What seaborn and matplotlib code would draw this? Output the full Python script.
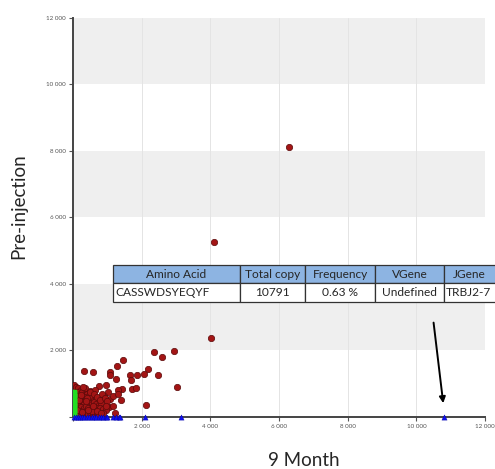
import numpy as np
import pandas as pd
import matplotlib
matplotlib.use("Agg")
import matplotlib.pyplot as plt
import seaborn as sns
from matplotlib.ticker import FuncFormatter

# ─── Data ────────────────────────────────────────────────
# red clones (9 Month copies, Pre-injection copies)
red_x = [6300, 4100, 4020, 2360, 2590, 2930, 1466, 320, 573, 1078, 1068, 1272,
         2194, 2077, 2476, 1651, 1865, 1253, 1690, 1427, 1311, 1719, 1835, 1010,
         748, 961, 3020, 1087, 1398, 2135, 1058, 1155, 845, 1223,
         30, 90, 150, 220, 280, 60, 130, 200, 270, 340, 410, 480, 40, 110, 180,
         250, 320, 390, 460, 530, 600, 670, 50, 120, 190, 260, 330, 400, 470,
         540, 610, 680, 750, 820, 40, 100, 170, 240, 310, 380, 450, 520, 590,
         660, 730, 800, 880, 950, 70, 140, 210, 290, 360, 430, 500, 570, 640,
         710, 780, 870, 20, 80, 350, 500, 650, 900, 1150, 1300, 560, 720,
         60, 160, 230, 300, 420, 490, 620, 700, 780, 850, 930, 1000, 110, 260,
         370, 440, 590, 690, 810, 960]
red_y = [8120, 5250, 2380, 1945, 1815, 1975, 1714, 1384, 1363, 1363, 1263, 1534,
         1434, 1303, 1254, 1254, 1254, 1143, 1103, 852, 812, 832, 872, 762,
         932, 952, 912, 551, 501, 361, 291, 331, 180, 110,
         950, 900, 860, 820, 780, 720, 760, 700, 740, 660, 700, 640, 600, 620,
         580, 560, 600, 540, 520, 560, 500, 540, 460, 420, 480, 440, 400, 460,
         420, 380, 440, 400, 360, 420, 320, 280, 340, 300, 260, 320, 280, 240,
         300, 260, 220, 280, 240, 200, 160, 140, 180, 120, 160, 100, 140, 120,
         90, 130, 80, 110, 560, 640, 860, 780, 820, 620, 640, 700, 180, 60,
         380, 500, 660, 900, 580, 760, 680, 600, 520, 700, 560, 480, 220, 160,
         480, 200, 340, 180, 120, 340]

# blue clones (present only at 9 Month)
blue_x = [20, 80, 140, 200, 260, 330, 400, 470, 540, 610, 680, 750, 820,
          880, 950, 1000, 1150, 1250, 1330, 1380, 2100, 3140, 10791]
blue_y = [0] * len(blue_x)

# green clones (present only at Pre-injection)
green_x = [40, 40, 40, 40, 40, 40, 40, 40, 40, 40, 40, 40, 40, 40, 40]
green_y = [60, 100, 150, 200, 250, 300, 350, 400, 450, 500, 550, 600, 650, 690, 720]

table_cols = ["Amino Acid", "Total copy", "Frequency", "VGene", "JGene"]
table_row = ["CASSWDSYEQYF", "10791", "0.63 %", "Undefined", "TRBJ2-7"]

ticks = [0, 2000, 4000, 6000, 8000, 10000, 12000]

df_red = pd.DataFrame({"x": red_x, "y": red_y})
df_blue = pd.DataFrame({"x": blue_x, "y": blue_y})
df_green = pd.DataFrame({"x": green_x, "y": green_y})

# ─── Plot ────────────────────────────────────────────────
sns.set_style("white")
plt.rcParams["font.family"] = ["Lato", "DejaVu Sans"]

fig = plt.figure(figsize=(4.95, 4.69), dpi=100)
ax = fig.add_axes([0.1475, 0.111, 0.8325, 0.8506])

# faixas alternadas + grade vertical fraca
for i in range(len(ticks) - 1):
    if i % 2 == 1:
        ax.axhspan(ticks[i], ticks[i + 1], color="#efefef", zorder=0, lw=0)
for t in ticks[1:-1]:
    ax.axvline(t, color="#e4e4e4", lw=0.7, zorder=0.5)

sns.scatterplot(data=df_red, x="x", y="y", ax=ax, color="#a31515", s=21,
                edgecolor="#5a0a0a", linewidth=0.5, zorder=3)
sns.scatterplot(data=df_green, x="x", y="y", ax=ax, color="#22dd22", marker="s", s=16,
                edgecolor="#22dd22", linewidth=0.3, zorder=4)
sns.scatterplot(data=df_blue, x="x", y="y", ax=ax, color="#1010ee", marker="^", s=14,
                edgecolor="#0000aa", linewidth=0.3, zorder=5, clip_on=False)

ax.set_xlim(0, 12000)
ax.set_ylim(0, 12000)
ax.set_xticks(ticks)
ax.set_yticks(ticks)
fmt = FuncFormatter(lambda v, p: "" if v == 0 else f"{int(v):,}".replace(",", " "))
ax.xaxis.set_major_formatter(fmt)
ax.yaxis.set_major_formatter(fmt)
ax.tick_params(axis="both", labelsize=4.5, labelcolor="#555555", length=3,
               width=0.8, color="#555555", direction="out", pad=2,
               bottom=True, left=True)

sns.despine(ax=ax)
for s in ["left", "bottom"]:
    ax.spines[s].set_color("#444444")
    ax.spines[s].set_linewidth(1.4)

ax.set_xlabel("")
ax.set_ylabel("")
fig.text(0.037, 0.56, "Pre-injection", rotation=90, ha="center", va="center",
         fontsize=13.5)
fig.text(0.614, 0.018, "9 Month", ha="center", va="center", fontsize=13.5)

# ─── Tabela do clone ─────────────────────────────────────
widths = [127, 65, 70, 69, 70]
tot = sum(widths)
span = tot / 412
tbl = ax.table(cellText=[table_row], colLabels=table_cols, cellLoc="center",
               bbox=[0.097, 0.288, span, 0.093], zorder=6)
tbl.auto_set_font_size(False)
for (r, c), cell in tbl.get_celld().items():
    cell.set_width(widths[c] / tot * span)
    cell.set_linewidth(0.9)
    cell.set_edgecolor("#333333")
    cell.get_text().set_fontsize(8.6)
    if r == 0:
        cell.set_facecolor("#8db4e2")
        if c == 4:
            cell.get_text().set_horizontalalignment("left")
            cell.PAD = 0.12
    else:
        cell.set_facecolor("white")
        if c in (0, 4):
            cell.get_text().set_horizontalalignment("left")
            cell.PAD = 0.02
tbl.set_clip_on(False)

ax.annotate("", xy=(10790, 330), xytext=(10490, 2920),
            arrowprops=dict(arrowstyle="-|>", color="black", lw=1.4,
                            mutation_scale=9))

plt.savefig("out.png", dpi=100)
